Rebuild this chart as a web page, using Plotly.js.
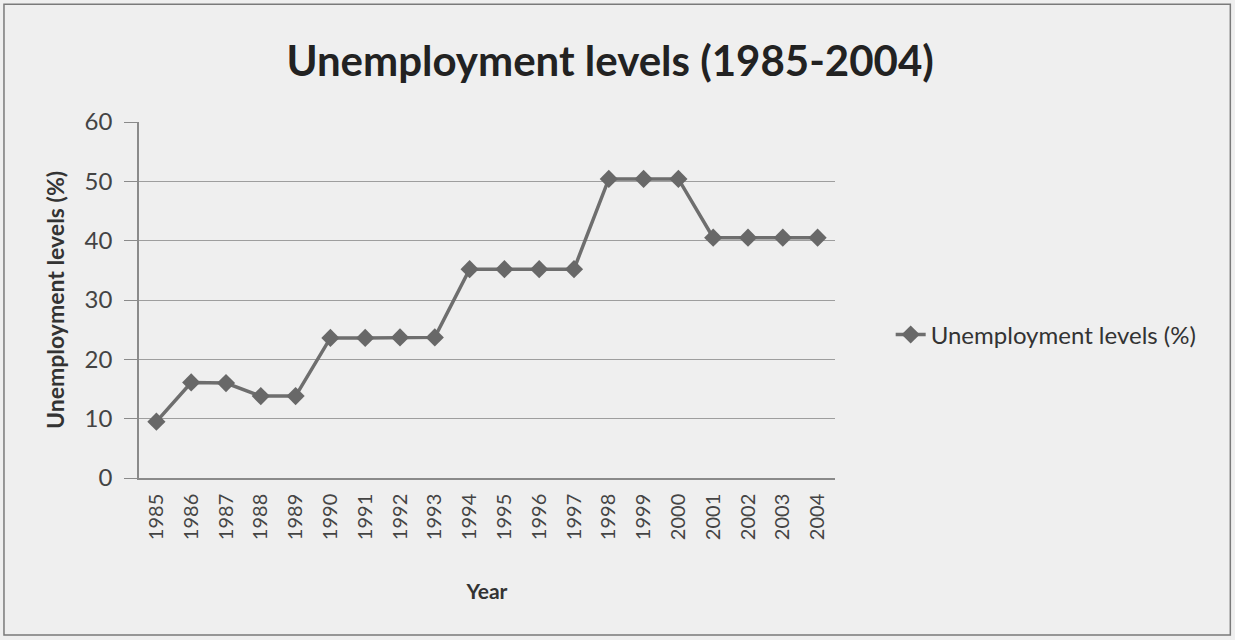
<!DOCTYPE html>
<html>
<head>
<meta charset="utf-8">
<script src="https://cdn.plot.ly/plotly-3.0.1.min.js"></script>
<style>html,body{margin:0;padding:0;background:#efefef;}#chart{width:1235px;height:640px;}</style>
</head>
<body>
<div id="chart"></div>
<script>
const years = ["1985","1986","1987","1988","1989","1990","1991","1992","1993","1994","1995","1996","1997","1998","1999","2000","2001","2002","2003","2004"];
const unemployment = [9.5,16.1,16.0,13.8,13.8,23.6,23.6,23.7,23.7,35.2,35.2,35.2,35.2,50.4,50.4,50.4,40.5,40.5,40.5,40.5];
const seriesName = "Unemployment levels (%)";
const chartTitle = "Unemployment levels (1985-2004)";
const xTitle = "Year";
const yTitle = "Unemployment levels (%)";
const yTicks = [0,10,20,30,40,50,60];

const trace = {
  x: years, y: unemployment, type: 'scatter', mode: 'lines+markers', name: seriesName,
  line: {color: '#6e6e6e', width: 3.5},
  marker: {symbol: 'diamond', size: 14, color: '#686868'}
};
const font = "Lato, 'Open Sans', sans-serif";
const layout = {
  width: 1235, height: 640,
  paper_bgcolor: '#efefef', plot_bgcolor: 'rgba(0,0,0,0)',
  margin: {l: 139, r: 400, t: 122, b: 162},
  font: {family: font, color: '#333'},
  title: {text: chartTitle, font: {family: font, size: 42, color: '#222', weight: 'bold'},
          x: 0.494, xref: 'container', y: 0.905, yref: 'container', yanchor: 'middle', xanchor: 'center'},
  xaxis: {type: 'category', range: [-0.5, years.length - 0.5], tickangle: -90, showgrid: false, showline: true,
          linecolor: '#8a8a8a', linewidth: 1.5,
          ticks: '', ticklabelstandoff: 6, tickfont: {size: 20, color: '#444'},
          title: {text: xTitle, font: {size: 21, color: '#333', weight: 'bold'}, standoff: 45}},
  yaxis: {range: [0, 60], tickvals: yTicks, showgrid: true, gridcolor: '#9e9e9e', gridwidth: 1.2,
          showline: true, linecolor: '#8a8a8a', linewidth: 1.5, ticks: 'outside', ticklen: 13, tickcolor: '#8a8a8a',
          ticklabelstandoff: 7, tickfont: {size: 24, color: '#444'}, zeroline: false,
          title: {text: yTitle, font: {size: 23, color: '#333', weight: 'bold'}, standoff: 14}},
  showlegend: true,
  legend: {x: 1.08, y: 0.402, xanchor: 'left', yanchor: 'middle', bgcolor: 'rgba(0,0,0,0)',
           font: {size: 24, color: '#333'}},
  shapes: [{type: 'rect', xref: 'paper', yref: 'paper', x0: -0.194, x1: 1.568, y0: -0.441, y1: 1.331,
            line: {color: '#7a7a7a', width: 1.5}, fillcolor: 'rgba(0,0,0,0)'}]
};
Plotly.newPlot('chart', [trace], layout, {displayModeBar: false});
</script>
</body>
</html>
